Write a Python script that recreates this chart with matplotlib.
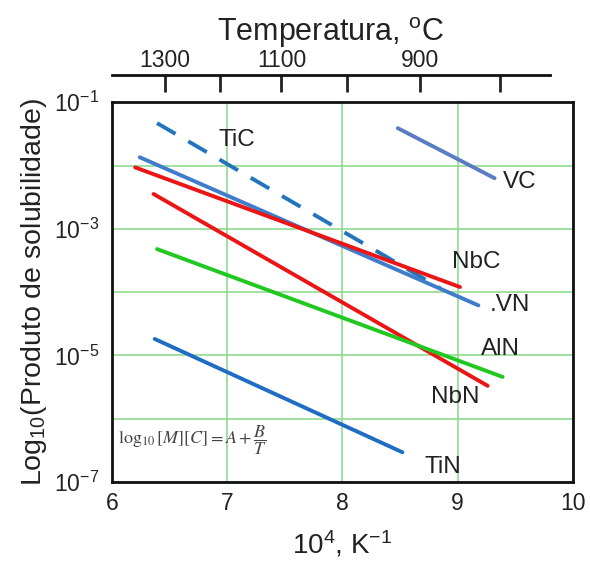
import numpy as np
import matplotlib
matplotlib.use('Agg')
from matplotlib import pyplot as plt

plt.rcParams['font.family'] = ['Liberation Sans', 'DejaVu Sans']
plt.rcParams['mathtext.fontset'] = 'custom'
plt.rcParams['mathtext.rm'] = 'Liberation Sans'
plt.rcParams['mathtext.it'] = 'Liberation Sans:italic'

# line end points: x = 10^4/T, y = log10(solubility product)
names = ['TiC', 'VC', 'VN', 'NbC', 'NbN', 'AlN', 'TiN']
x_start = [6.39, 8.48, 6.24, 6.20, 6.36, 6.39, 6.37]
x_end = [8.85, 9.32, 9.18, 9.02, 9.26, 9.39, 8.52]
logy_start = [-1.33, -1.41, -1.87, -2.03, -2.45, -3.32, -4.74]
logy_end = [-3.94, -2.20, -4.21, -3.92, -5.48, -5.34, -6.53]
colors = ['#2274bd', '#5a7cc2', '#3f7ccc', '#ec1515', '#ec1515', '#22c822', '#1e6cc4']
styles = ['dash', '-', '-', '-', '-', '-', '-']

# label positions (x, log10 y)
label_x = [7.08, 9.39, 9.28, 9.16, 8.98, 9.37, 8.87]
label_logy = [-1.60, -2.26, -4.21, -3.53, -5.66, -4.90, -6.76]
label_ha = ['center', 'left', 'left', 'center', 'center', 'center', 'center']

# top temperature scale
temp_labels = ['1300', '', '1100', '', '900', '']
temp_pos = [6.46, 6.94, 7.47, 8.04, 8.67, 9.37]

y_ticks = [1e-1, 1e-2, 1e-3, 1e-4, 1e-5, 1e-6, 1e-7]
y_ticklabels = ['10$^{-1}$', '', '10$^{-3}$', '', '10$^{-5}$', '', '10$^{-7}$']
x_ticks = [6, 7, 8, 9, 10]

fig = plt.figure(figsize=(5.9, 5.61), dpi=100)
ax = fig.add_axes([0.190, 0.1408, 0.781, 0.677])

for i in range(len(names)):
    xs = [x_start[i], x_end[i]]
    ys = [10 ** logy_start[i], 10 ** logy_end[i]]
    if styles[i] == 'dash':
        ax.plot(xs, ys, color=colors[i], lw=2.8, linestyle=(0, (5.5, 3.8)), solid_capstyle='butt')
    else:
        ax.plot(xs, ys, color=colors[i], lw=2.8, solid_capstyle='round')
    txt = names[i]
    if txt == 'VN':
        txt = '.VN'
    ax.text(label_x[i], 10 ** label_logy[i], txt, fontsize=17.5, color='#222222',
            ha=label_ha[i], va='center')

ax.set_yscale('log')
ax.set_xlim(6, 10)
ax.set_ylim(1e-7, 1e-1)
ax.set_yticks(y_ticks)
ax.set_yticklabels(y_ticklabels)
ax.minorticks_off()
ax.set_xticks(x_ticks)
ax.tick_params(axis='both', length=0, labelsize=16.5, colors='#222222')
ax.tick_params(axis='x', pad=7)
ax.tick_params(axis='y', pad=9)
ax.grid(True, color='#88d888', lw=1.1)
for s in ax.spines.values():
    s.set_linewidth(2)
    s.set_color('#111111')

ax.set_xlabel('10$^{4}$, K$^{-1}$', fontsize=20, color='#222222', labelpad=10)
ax.set_ylabel('Log$_{10}$(Produto de solubilidade)', fontsize=20.5, color='#222222', labelpad=4)

ax.text(6.05, 10 ** -6.34, r'$\log_{10}[M][C] = A + \dfrac{B}{T}$', fontsize=13,
        color='#444444', math_fontfamily='stix', ha='left', va='center')

# top temperature axis
top = fig.add_axes([0.190, 0.866, 0.742, 0.0])
top.set_xlim(6, 9.80)
top.set_yticks([])
top.xaxis.set_ticks_position('top')
top.xaxis.set_label_position('top')
top.set_xticks(temp_pos)
top.set_xticklabels(temp_labels)
top.tick_params(axis='x', direction='in', length=12, width=2, labelsize=16.5,
                pad=2, colors='#222222')
for k in ['left', 'right', 'bottom']:
    top.spines[k].set_visible(False)
top.spines['top'].set_linewidth(2)
top.spines['top'].set_color('#111111')
top.set_xlabel('Temperatura, $^{\\mathrm{o}}$C', fontsize=22, color='#222222', labelpad=6)

fig.savefig('out.png', dpi=100)
